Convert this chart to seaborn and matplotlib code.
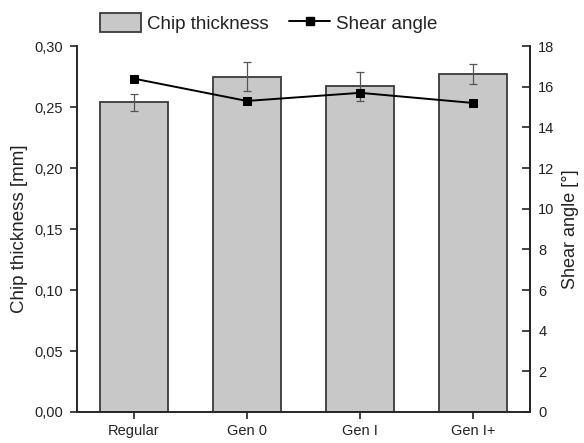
import numpy as np
import pandas as pd
import matplotlib
matplotlib.use("Agg")
import matplotlib.pyplot as plt
from matplotlib.ticker import FuncFormatter, MultipleLocator
from matplotlib.patches import Patch
from matplotlib.lines import Line2D
import seaborn as sns

# Measured values per tool generation
categories = ["Regular", "Gen 0", "Gen I", "Gen I+"]
chip_thickness = [0.254, 0.275, 0.267, 0.277]      # mm
chip_thickness_err = [0.007, 0.0117, 0.0117, 0.0082]
shear_angle = [16.4, 15.3, 15.7, 15.2]             # degrees

sns.set_theme(style="ticks")
plt.rcParams["font.family"] = ["Liberation Sans", "DejaVu Sans"]
plt.rcParams["axes.linewidth"] = 1.2

ink = "#222222"
bar_face = "#c8c8c8"
bar_edge = "#3a3a3a"

df = pd.DataFrame({"category": categories,
                   "thickness": chip_thickness,
                   "err": chip_thickness_err,
                   "shear": shear_angle})

fig = plt.figure(figsize=(5.84, 4.43), dpi=100)
ax = fig.add_axes([0.132, 0.0700, 0.7755, 0.8260])

sns.barplot(data=df, x="category", y="thickness", order=categories,
            color=bar_face, edgecolor=bar_edge, linewidth=1.3,
            width=0.6, saturation=1, errorbar=None, ax=ax)
ax.errorbar(np.arange(len(categories)), df["thickness"], yerr=df["err"],
            fmt="none", ecolor="#555555", elinewidth=0.9, capsize=3,
            capthick=0.9, zorder=4)

ax.set_ylim(0, 0.30)
ax.set_xlim(-0.5, len(categories) - 0.5)
ax.yaxis.set_major_locator(MultipleLocator(0.05))
ax.yaxis.set_major_formatter(FuncFormatter(lambda v, _: f"{v:.2f}".replace(".", ",")))
ax.set_xlabel("")
ax.set_ylabel("Chip thickness [mm]", fontsize=13.5, color=ink, labelpad=5)
ax.tick_params(axis="y", direction="out", length=5, width=1.2,
               labelsize=10.5, colors=ink, pad=5)
ax.tick_params(axis="x", direction="out", length=5, width=1.2,
               labelsize=10.5, colors=ink, pad=4)
ax.spines["top"].set_visible(False)
for s in ("left", "bottom", "right"):
    ax.spines[s].set_color(ink)

ax2 = ax.twinx()
sns.lineplot(data=df, x="category", y="shear", sort=False, color="black",
             linewidth=1.4, marker="s", markersize=5.5,
             markeredgecolor="black", ax=ax2)
ax2.set_xlim(-0.5, len(categories) - 0.5)
ax2.set_ylim(0, 18)
ax2.yaxis.set_major_locator(MultipleLocator(2))
ax2.set_ylabel("Shear angle [°]", fontsize=13, color=ink, labelpad=5)
ax2.tick_params(axis="y", direction="in", length=6, width=1.2,
                labelsize=10.5, colors=ink, pad=6)
ax2.spines["top"].set_visible(False)
ax2.spines["right"].set_color(ink)
ax2.spines["right"].set_linewidth(1.2)
ax2.grid(False)
ax.grid(False)

handles = [Patch(facecolor=bar_face, edgecolor=bar_edge, linewidth=1.3),
           Line2D([0], [0], color="black", linewidth=1.4, marker="s",
                  markersize=5.5)]
fig.legend(handles, ["Chip thickness", "Shear angle"], loc="center",
           bbox_to_anchor=(0.46, 0.949), ncol=2, frameon=False,
           fontsize=13.5, handlelength=2.2, handleheight=1.2,
           handletextpad=0.3, columnspacing=1.1, labelcolor=ink)

fig.savefig("out.png", dpi=100, facecolor="white")
